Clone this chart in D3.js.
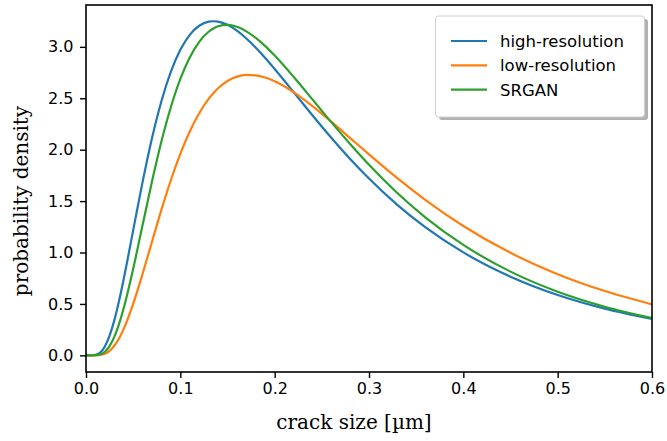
<!DOCTYPE html>
<html>
<head>
<meta charset="utf-8">
<script src="https://cdn.jsdelivr.net/npm/d3@7"></script>
<style>
  body { margin: 0; background: #ffffff; }
</style>
</head>
<body>
<div id="chart"></div>
<script>
// crack size samples [µm] and density
const crackSize = [0, 0.005, 0.01, 0.015, 0.02, 0.025, 0.03, 0.035, 0.04, 0.05, 0.06, 0.07, 0.08, 0.09,
  0.10, 0.11, 0.12, 0.13, 0.135, 0.14, 0.15, 0.16, 0.17, 0.18, 0.19, 0.20, 0.22, 0.24, 0.26, 0.28, 0.30,
  0.33, 0.36, 0.40, 0.45, 0.50, 0.55, 0.60];
const highRes = [0, 0.0001, 0.004, 0.026, 0.086, 0.191, 0.340, 0.528, 0.743, 1.215, 1.687, 2.114, 2.474, 2.759,
  2.971, 3.117, 3.205, 3.245, 3.249, 3.245, 3.214, 3.157, 3.081, 2.991, 2.892, 2.785, 2.561, 2.335, 2.116, 1.910, 1.720,
  1.464, 1.244, 1.001, 0.765, 0.587, 0.454, 0.353];
const lowRes = [0, 0, 0.0004, 0.004, 0.016, 0.044, 0.093, 0.164, 0.257, 0.500, 0.793, 1.107, 1.417, 1.705,
  1.959, 2.177, 2.354, 2.494, 2.549, 2.597, 2.668, 2.710, 2.727, 2.723, 2.702, 2.666, 2.560, 2.424, 2.272, 2.113, 1.954,
  1.723, 1.510, 1.258, 0.997, 0.789, 0.625, 0.496];
const srgan = [0, 0, 0.001, 0.009, 0.035, 0.090, 0.179, 0.304, 0.460, 0.841, 1.268, 1.692, 2.081, 2.415,
  2.688, 2.897, 3.049, 3.147, 3.178, 3.200, 3.213, 3.195, 3.151, 3.087, 3.007, 2.915, 2.709, 2.489, 2.268, 2.055, 1.853,
  1.579, 1.340, 1.074, 0.814, 0.619, 0.473, 0.363];

const seriesNames = ["high-resolution", "low-resolution", "SRGAN"];
const seriesColors = ["#1f77b4", "#ff7f0e", "#2ca02c"];
const xTicks = [0, 0.1, 0.2, 0.3, 0.4, 0.5, 0.6];
const yTicks = [0, 0.5, 1.0, 1.5, 2.0, 2.5, 3.0];

const W = 667, H = 441;
const plot = {left: 86, right: 652, top: 5, bottom: 372};

const svg = d3.select("#chart")
  .append("svg")
  .attr("width", W)
  .attr("height", H);

const x = d3.scaleLinear().domain([0, 0.6]).range([plot.left, plot.right]);
const y = d3.scaleLinear().domain([-0.162, 3.407]).range([plot.bottom, plot.top]);

svg.append("defs").append("clipPath").attr("id", "plotclip")
  .append("rect")
  .attr("x", plot.left).attr("y", plot.top)
  .attr("width", plot.right - plot.left).attr("height", plot.bottom - plot.top);

const line = d3.line()
  .x(d => x(d[0]))
  .y(d => y(d[1]))
  .curve(d3.curveMonotoneX);

// curves
[highRes, lowRes, srgan].forEach((vals, i) => {
  svg.append("path")
    .datum(crackSize.map((c, j) => [c, vals[j]]))
    .attr("clip-path", "url(#plotclip)")
    .attr("fill", "none")
    .attr("stroke", seriesColors[i])
    .attr("stroke-width", 2.2)
    .attr("d", line);
});

// axes
const xAxis = svg.append("g")
  .attr("transform", `translate(0,${plot.bottom})`)
  .call(d3.axisBottom(x).tickValues(xTicks).tickFormat(d3.format(".1f")).tickSize(6).tickPadding(5));
const yAxis = svg.append("g")
  .attr("transform", `translate(${plot.left},0)`)
  .call(d3.axisLeft(y).tickValues(yTicks).tickFormat(d3.format(".1f")).tickSize(6).tickPadding(6.5));

[xAxis, yAxis].forEach(g => {
  g.select(".domain").remove();
  g.selectAll("line").attr("stroke", "#000").attr("stroke-width", 1.4);
  g.selectAll("text")
    .style("font-family", "'DejaVu Sans', sans-serif")
    .style("font-size", "16px")
    .attr("fill", "#000");
});

// frame
svg.append("rect")
  .attr("x", plot.left).attr("y", plot.top)
  .attr("width", plot.right - plot.left).attr("height", plot.bottom - plot.top)
  .attr("fill", "none")
  .attr("stroke", "#000")
  .attr("stroke-width", 1.6);

// axis labels
svg.append("text")
  .attr("x", 354)
  .attr("y", 429)
  .attr("text-anchor", "middle")
  .style("font-family", "'DejaVu Serif', serif")
  .style("font-size", "20px")
  .attr("fill", "#000")
  .text("crack size [µm]");

svg.append("text")
  .attr("transform", "translate(28,201) rotate(-90)")
  .attr("text-anchor", "middle")
  .style("font-family", "'DejaVu Serif', serif")
  .style("font-size", "20px")
  .attr("fill", "#000")
  .text("probability density");

// legend
const lg = svg.append("g");
lg.append("rect")
  .attr("x", 439).attr("y", 19)
  .attr("width", 209).attr("height", 101)
  .attr("rx", 3)
  .attr("fill", "#000")
  .attr("opacity", 0.3);
lg.append("rect")
  .attr("x", 435.5).attr("y", 16)
  .attr("width", 209).attr("height", 101)
  .attr("rx", 3)
  .attr("fill", "#fff")
  .attr("stroke", "#d0d0d0")
  .attr("stroke-width", 1);

seriesNames.forEach((name, i) => {
  const ly = 41 + i * 24.3;
  lg.append("line")
    .attr("x1", 451).attr("x2", 487)
    .attr("y1", ly).attr("y2", ly)
    .attr("stroke", seriesColors[i])
    .attr("stroke-width", 2.2);
  lg.append("text")
    .attr("x", 500)
    .attr("y", ly + 6)
    .style("font-family", "'DejaVu Sans', sans-serif")
    .style("font-size", "16.5px")
    .attr("fill", "#000")
    .text(name);
});
</script>
</body>
</html>
